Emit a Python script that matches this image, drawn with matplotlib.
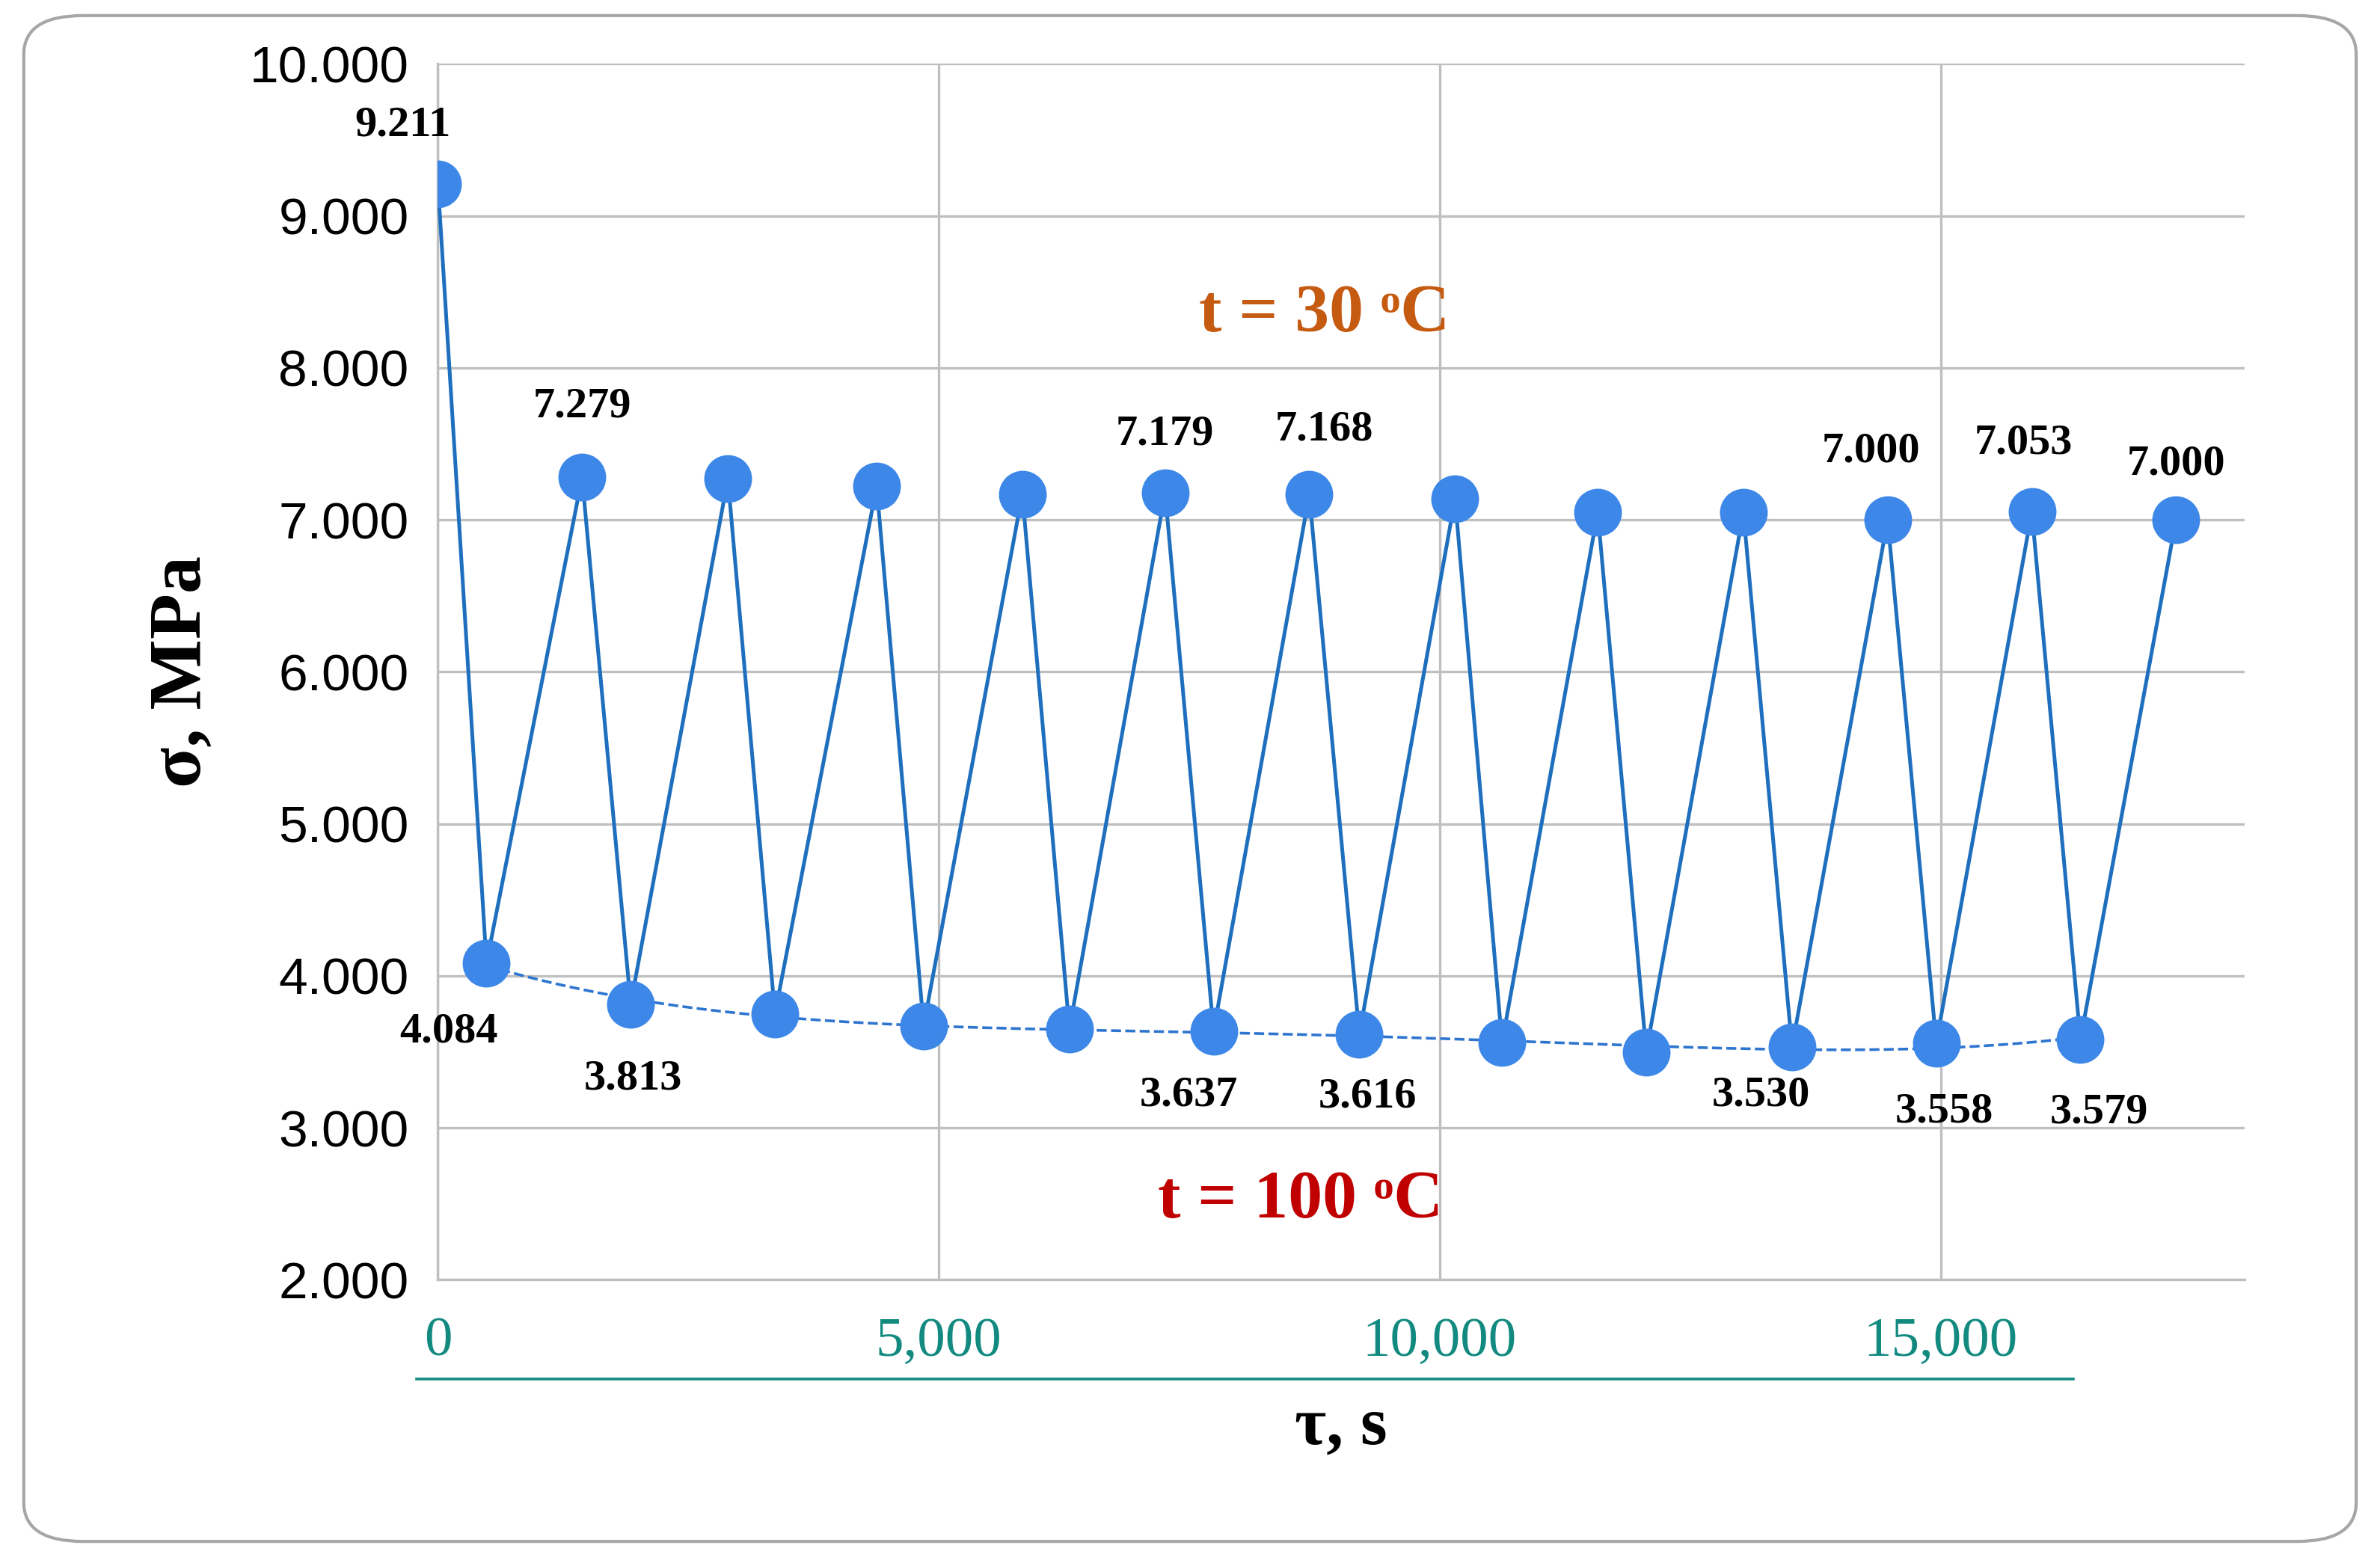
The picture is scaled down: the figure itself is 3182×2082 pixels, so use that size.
import numpy as np
import matplotlib
matplotlib.use("Agg")
import matplotlib.pyplot as plt
from matplotlib.patches import FancyBboxPatch
from matplotlib.lines import Line2D
from matplotlib.ticker import FuncFormatter

tau = [0, 485, 1439, 1924, 2894, 3364, 4379, 4848, 5833, 6303, 7258, 7742, 8697, 9197,
       10152, 10621, 11576, 12061, 13030, 13515, 14470, 14955, 15909, 16394, 17348]
sigma = [9.211, 4.084, 7.279, 3.813, 7.27, 3.75, 7.22, 3.67, 7.17, 3.65, 7.179, 3.637, 7.168, 3.616,
         7.14, 3.56, 7.05, 3.50, 7.05, 3.530, 7.000, 3.558, 7.053, 3.579, 7.000]
labels = {0: (-17, 28), 1: (-18, -33), 2: (0, 34), 3: (1, -36), 10: (0, 28), 11: (-12, -31),
          12: (7, 31), 13: (4, -30), 19: (-15, -23), 20: (-8, 33), 21: (4, -33), 22: (-4, 33),
          23: (9, -35), 24: (0, 27)}
xticks = [0, 5000, 10000, 15000]
yticks = [2, 3, 4, 5, 6, 7, 8, 9, 10]

serif = ['Liberation Serif', 'DejaVu Serif']
fig = plt.figure(figsize=(15.91, 10.41), dpi=200)
ax = fig.add_axes([0.184, 0.178, 0.759, 0.781])

ax.plot(tau, sigma, color='#1F6FBF', lw=1.8, marker='o', ms=22,
        mfc='#3C87E8', mec='#3C87E8', zorder=3)
# trendline through lower points
lx = np.array(tau[1::2]); ly = np.array(sigma[1::2])
c = np.polyfit(lx, ly, 4)
xx = np.linspace(lx[0], lx[-1], 200)
ax.plot(xx, np.polyval(c, xx), '--', color='#2E75D0', lw=1.3, zorder=2)

for i, (dx, dy) in labels.items():
    ax.annotate(f"{sigma[i]:.3f}", (tau[i], sigma[i]), xytext=(dx, dy), textcoords='offset points',
                ha='center', va='center', fontsize=21, fontweight='bold', family=serif, zorder=5)

ax.text(8848, 8.35, 't = 30 ᵒC', ha='center', va='center', fontsize=33, fontweight='bold',
        color='#C55A11', family=serif)
ax.text(8606, 2.52, 't = 100 ᵒC', ha='center', va='center', fontsize=33, fontweight='bold',
        color='#C00000', family=serif)

ax.set_xlim(0, 18030)
ax.set_ylim(2, 10)
ax.set_xticks(xticks)
ax.set_yticks(yticks)
ax.xaxis.set_major_formatter(FuncFormatter(lambda v, p: f"{int(v):,}"))
ax.yaxis.set_major_formatter(FuncFormatter(lambda v, p: f"{v:.3f}"))
ax.grid(True, color='#BFBFBF', lw=1.2)
ax.set_axisbelow(True)
for s in ['top', 'right']:
    ax.spines[s].set_visible(False)
for s in ['left', 'bottom']:
    ax.spines[s].set_color('#BFBFBF')
    ax.spines[s].set_linewidth(1.2)
ax.tick_params(length=0)
ax.tick_params(axis='y', labelsize=25, pad=14)
for t in ax.get_yticklabels():
    t.set_family(['Liberation Sans', 'DejaVu Sans'])
ax.tick_params(axis='x', labelsize=27, labelcolor='#138A80', pad=18)
for t in ax.get_xticklabels():
    t.set_family(serif)
ax.set_xlabel('τ, s', fontsize=33, fontweight='bold', family=serif, labelpad=14)
ax.set_ylabel('σ, MPa', fontsize=36, fontweight='bold', family=serif, labelpad=16)

fig.add_artist(Line2D([0.175, 0.871], [0.1145, 0.1145], color='#138A80', lw=1.3,
                      transform=fig.transFigure))
fig.add_artist(FancyBboxPatch((0.01, 0.01), 0.98, 0.98, boxstyle='round,pad=0,rounding_size=0.025',
                              transform=fig.transFigure, fill=False, ec='#A6A6A6', lw=1.5))
fig.savefig('out.png', dpi=200)
